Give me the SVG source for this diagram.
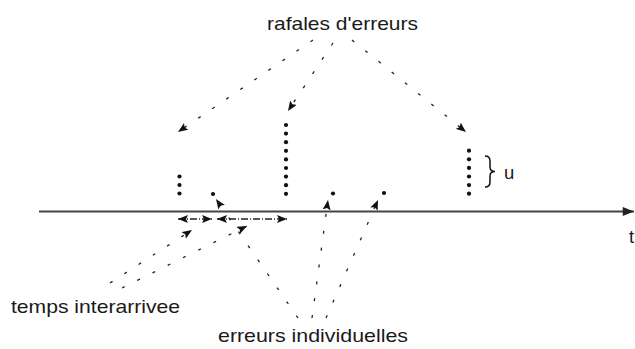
<svg xmlns="http://www.w3.org/2000/svg" width="635" height="349" viewBox="0 0 635 349">
<defs>
<marker id="ah" viewBox="0 0 10 8" refX="10" refY="4" markerWidth="10" markerHeight="8" markerUnits="userSpaceOnUse" orient="auto-start-reverse">
<path d="M0,0 L10,4 L0,8 L2,4 Z" fill="#111"/>
</marker>
<marker id="ahx" viewBox="0 0 10 8" refX="10" refY="4" markerWidth="12" markerHeight="9" markerUnits="userSpaceOnUse" orient="auto">
<path d="M0,0 L10,4 L0,8 Z" fill="#222"/>
</marker>
</defs>
<style>
text{font-family:"Liberation Sans",Arial,Helvetica,sans-serif;font-size:18.5px;fill:#1a1a1a}
.lead{fill:none;stroke:#222;stroke-width:1.3;stroke-dasharray:3 14;marker-end:url(#ah)}
.span{fill:none;stroke:#222;stroke-width:1.3;stroke-dasharray:7 2 1 2;marker-start:url(#ah);marker-end:url(#ah)}
.dot{fill:#111}
</style>
<rect width="635" height="349" fill="#fff"/>
<g id="axis">
<line x1="39" y1="211.5" x2="634" y2="211.5" stroke="#444" stroke-width="2" marker-end="url(#ahx)"/>
<text x="629" y="243">t</text>
</g>
<g id="burst1">
<circle class="dot" cx="179.5" cy="176.5" r="2.1"/>
<circle class="dot" cx="179.5" cy="185" r="2.1"/>
<circle class="dot" cx="179.5" cy="193.5" r="2.1"/>
</g>
<g id="burst2">
<circle class="dot" cx="286" cy="125" r="2.1"/>
<circle class="dot" cx="286" cy="133.6" r="2.1"/>
<circle class="dot" cx="286" cy="142.2" r="2.1"/>
<circle class="dot" cx="286" cy="150.8" r="2.1"/>
<circle class="dot" cx="286" cy="159.4" r="2.1"/>
<circle class="dot" cx="286" cy="168" r="2.1"/>
<circle class="dot" cx="286" cy="176.6" r="2.1"/>
<circle class="dot" cx="286" cy="185.2" r="2.1"/>
<circle class="dot" cx="286" cy="193.8" r="2.1"/>
</g>
<g id="burst3">
<circle class="dot" cx="469" cy="150.7" r="2.1"/>
<circle class="dot" cx="469" cy="159.3" r="2.1"/>
<circle class="dot" cx="469" cy="167.9" r="2.1"/>
<circle class="dot" cx="469" cy="176.5" r="2.1"/>
<circle class="dot" cx="469" cy="185.1" r="2.1"/>
<circle class="dot" cx="469" cy="193.7" r="2.1"/>
<path d="M485,156 Q490,156 490,161 L490,167 Q490,171.5 495,171.5 Q490,171.5 490,176 L490,182 Q490,187 485,187" fill="none" stroke="#111" stroke-width="1.5"/>
<text x="504" y="179">u</text>
</g>
<g id="err1"><circle class="dot" cx="213" cy="194" r="2.1"/></g>
<g id="err2"><circle class="dot" cx="333" cy="193.5" r="2.1"/></g>
<g id="err3"><circle class="dot" cx="384" cy="193" r="2.1"/></g>
<g id="label-rafales"><text x="267" y="30" textLength="151" lengthAdjust="spacingAndGlyphs">rafales d'erreurs</text></g>
<g id="label-temps"><text x="11" y="313" textLength="169" lengthAdjust="spacingAndGlyphs">temps interarrivee</text></g>
<g id="label-erreurs"><text x="218" y="342" textLength="190" lengthAdjust="spacingAndGlyphs">erreurs individuelles</text></g>
<g id="connectors">
<line class="lead" x1="313" y1="40" x2="178" y2="132"/>
<line class="lead" x1="333" y1="43" x2="288" y2="111"/>
<line class="lead" x1="352" y1="40" x2="466" y2="132"/>
<line class="span" x1="178" y1="219" x2="212" y2="219"/>
<line class="span" x1="217" y1="219" x2="287" y2="219"/>
<line class="lead" x1="110" y1="283" x2="192" y2="230"/>
<line class="lead" x1="122" y1="288" x2="247" y2="226"/>
<line class="lead" x1="298" y1="318" x2="216" y2="199"/>
<line class="lead" x1="312" y1="318" x2="328" y2="200"/>
<line class="lead" x1="326" y1="318" x2="378" y2="200"/>
</g>
</svg>
